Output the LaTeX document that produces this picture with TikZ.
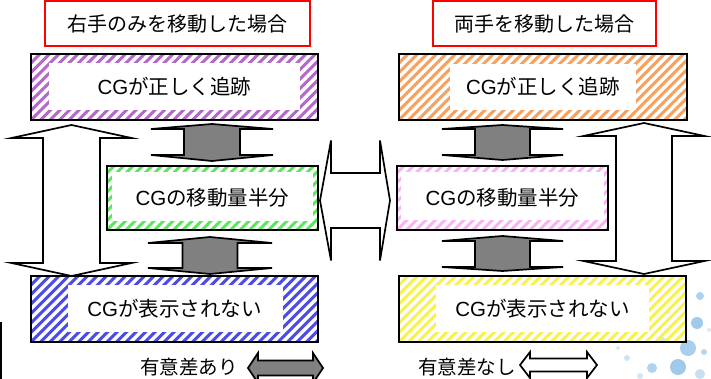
\documentclass[tikz,border=0pt]{standalone}
\usepackage{fontspec}
\setmainfont{Noto Sans CJK JP}
\newfontfamily\latfont{Liberation Sans}
\definecolor{hpurple}{RGB}{180,105,200}
\definecolor{horange}{RGB}{247,160,95}
\definecolor{hgreen}{RGB}{95,230,95}
\definecolor{hpink}{RGB}{247,180,242}
\definecolor{hblue}{RGB}{75,75,232}
\definecolor{hyellow}{RGB}{247,242,80}
\definecolor{arrgray}{RGB}{128,128,128}
\definecolor{bub}{RGB}{110,175,225}
\newcommand{\cgtxt}{{\latfont CG}}
% hatch: color, x1,y1,x2,y2
\newcommand{\hatchrect}[5]{%
  \begin{scope}
    \clip (#2,#3) rectangle (#4,#5);
    \foreach \t in {-81,-71.5,...,300}
      \draw[#1, line width=2.9pt] ({#2+\t},{#5+5}) -- ++(80,-80);
  \end{scope}}
% vertical double block arrow: style, cx, half shaft, half head, ytip1, ywing1, ywing2, ytip2
\newcommand{\vdarrow}[8]{%
  \draw[#1] ({#2-#4},#6) -- (#2,#5) -- ({#2+#4},#6) -- ({#2+#3},#6) -- ({#2+#3},#7)
    -- ({#2+#4},#7) -- (#2,#8) -- ({#2-#4},#7) -- ({#2-#3},#7) -- ({#2-#3},#6) -- cycle;}
% horizontal double block arrow: style, cy, half shaft, half head, xtip1, xwing1, xwing2, xtip2
\newcommand{\hdarrow}[8]{%
  \draw[#1] (#6,{#2-#4}) -- (#5,#2) -- (#6,{#2+#4}) -- (#6,{#2+#3}) -- (#7,{#2+#3})
    -- (#7,{#2+#4}) -- (#8,#2) -- (#7,{#2-#4}) -- (#7,{#2-#3}) -- (#6,{#2-#3}) -- cycle;}
\begin{document}
\begin{tikzpicture}[x=1pt,y=-1pt,
  txt/.style={font=\fontsize{19.5}{22}\selectfont, inner sep=0pt},
  bx/.style={draw=black, line width=1.7pt, inner sep=0pt, font=\fontsize{20.5}{23}\selectfont},
  ttl/.style={draw=red, line width=1.8pt, inner sep=0pt, font=\fontsize{20}{23}\selectfont},
  warr/.style={draw=black, fill=white, line width=1.7pt, line join=miter},
  garr/.style={draw=black, fill=arrgray, line width=1.7pt, line join=miter}]
\useasboundingbox (0,0) rectangle (711,379);
\fill[white] (0,0) rectangle (711,379);

% background bubbles (bottom right)
\fill[bub, opacity=0.2] (668,312) circle (2.5);
\fill[bub, opacity=0.55] (700,296) circle (4);
\fill[bub, opacity=0.65] (697,323) circle (6);
\fill[bub, opacity=0.3] (663,340) circle (3);
\fill[bub, opacity=0.6] (688,348) circle (8);
\fill[bub, opacity=0.5] (704,352) circle (3);
\fill[bub, opacity=0.35] (627,358) circle (3);
\fill[bub, opacity=0.55] (652,368) circle (5);
\fill[bub, opacity=0.65] (678,367) circle (8);
\fill[bub, opacity=0.3] (640,376) circle (3);
\fill[bub, opacity=0.4] (700,374) circle (5);
\fill[bub, opacity=0.25] (618,348) circle (2);
\fill[bub, opacity=0.25] (709,330) circle (2);

% left edge line
\draw[black, line width=1.5pt] (1,322) -- (1,379);

% titles
\node[ttl, minimum width=265pt, minimum height=45pt] (tl) at (177.5,23.5) {右手のみを移動した場合};
\node[ttl, minimum width=223pt, minimum height=45pt] (tr) at (544.5,23.5) {両手を移動した場合};

% hatched boxes
\hatchrect{hpurple}{31}{54}{318}{120}
\fill[white] (49,63) rectangle (300,110);
\node[bx, minimum width=287pt, minimum height=66pt] (lt) at (174.5,87) {\cgtxt が正しく追跡};

\hatchrect{horange}{399}{54}{687}{120}
\fill[white] (450,64) rectangle (636,110);
\node[bx, minimum width=288pt, minimum height=66pt] (rt) at (543,87) {\cgtxt が正しく追跡};

\hatchrect{hgreen}{107}{166}{318}{230}
\fill[white] (112,172) rectangle (313,221);
\node[bx, minimum width=211pt, minimum height=64pt] (lm) at (212.5,198) {\cgtxt の移動量半分};

\hatchrect{hpink}{397}{166}{608}{230}
\fill[white] (401,172) rectangle (604,220);
\node[bx, minimum width=211pt, minimum height=64pt] (rm) at (502.5,198) {\cgtxt の移動量半分};

\hatchrect{hblue}{31}{276}{318}{342}
\fill[white] (68,285) rectangle (283,332);
\node[bx, minimum width=287pt, minimum height=66pt] (lb) at (174.5,309) {\cgtxt が表示されない};

\hatchrect{hyellow}{399}{276}{686}{342}
\fill[white] (436,285) rectangle (649,332);
\node[bx, minimum width=287pt, minimum height=66pt] (rb) at (542.5,309) {\cgtxt が表示されない};

% block arrows
\vdarrow{warr}{71.5}{28.5}{60}{125}{138}{263}{276}
\vdarrow{warr}{644}{28}{60.5}{123}{136}{261}{274}
\vdarrow{garr}{212}{28}{61}{124}{129}{155}{161}
\vdarrow{garr}{210}{27.5}{62}{237}{243}{268}{274}
\vdarrow{garr}{502.5}{27.5}{60.5}{125}{129}{155}{160}
\vdarrow{garr}{502.5}{27.5}{60.5}{236}{241}{267}{271}
\hdarrow{warr}{200.5}{27.5}{60}{320}{331}{380}{390}

% legend
\node[txt, anchor=east] (sig) at (238,367) {有意差あり};
\hdarrow{garr}{368}{7.5}{15}{248}{258}{313}{323}
\node[txt, anchor=west] (nsig) at (418,367) {有意差なし};
\hdarrow{warr}{365}{6.5}{13}{520}{530}{587}{597}
\end{tikzpicture}
\end{document}
